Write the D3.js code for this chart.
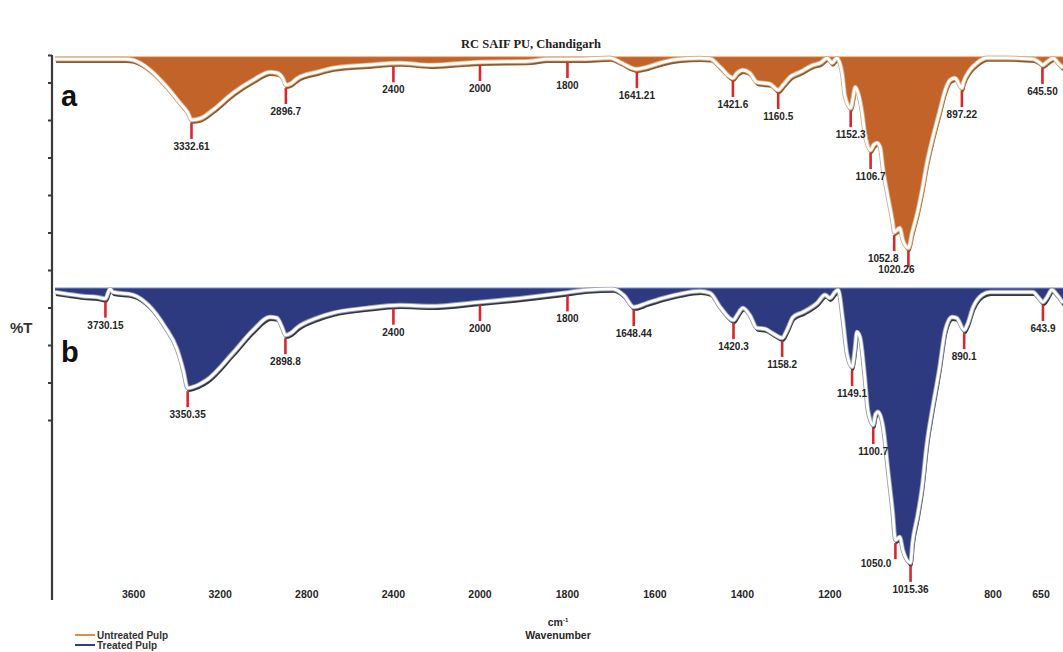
<!DOCTYPE html>
<html>
<head>
<meta charset="utf-8">
<script src="https://cdn.jsdelivr.net/npm/d3@7"></script>
<style>
  html, body { margin: 0; padding: 0; background: #ffffff; }
  svg { display: block; }
  text { font-family: "Liberation Sans", Arial, sans-serif; }
</style>
</head>
<body>
<svg id="chart" width="1063" height="652"></svg>
<script>
// FTIR spectra (wavenumber in cm-1, transmittance in %T)
const untreatedWavenumber = [
  3963, 3801, 3640, 3603, 3524, 3446, 3386, 3350, 3332.61, 3293, 3233, 3141, 3048, 2970, 2938, 2910,
  2896.7, 2873, 2841, 2753, 2679, 2522, 2370, 2231, 2100, 2000, 1886, 1847, 1771, 1703, 1680,
  1641.21, 1618, 1581, 1543, 1497, 1474, 1451, 1421.6, 1412, 1399, 1383, 1367, 1353, 1337, 1318,
  1307, 1291, 1268, 1238, 1222, 1206, 1195, 1184, 1172, 1165, 1152.3, 1147, 1142, 1136, 1126, 1120,
  1106.7, 1100, 1092, 1085, 1078, 1067, 1056, 1052.8, 1040, 1033, 1020.26, 1012, 1000, 989, 978,
  966, 950, 936, 925, 914, 897.22, 893, 872, 850, 819, 756, 675, 653, 645.5, 628, 612, 597, 581
];
const untreatedTransmittance = [
  99.1, 99.1, 99.1, 98.7, 94.3, 86.8, 79.8, 75.6, 72.4, 73.0, 76.8, 84.2, 89.9, 93.4, 93.0, 90.5,
  87.7, 88.4, 90.8, 93.4, 95.2, 96.5, 97.4, 96.5, 97.2, 97.8, 98.2, 99.1, 99.1, 99.6, 97.8,
  94.7, 95.6, 97.8, 99.1, 99.5, 99.3, 95.6, 90.8, 93.0, 94.3, 93.0, 89.0, 88.6, 88.2, 85.5,
  87.7, 91.2, 93.4, 96.5, 97.4, 99.5, 97.4, 99.5, 93.0, 82.5, 77.6, 82.0, 86.8, 84.6, 75.4, 66.7,
  59.2, 61.4, 62.3, 60.5, 50.4, 38.6, 27.2, 23.2, 25.0, 19.7, 16.2, 22.8, 31.6, 41.7, 53.5,
  63.6, 75.4, 85.5, 89.9, 90.8, 86.4, 88.6, 94.3, 97.4, 99.6, 99.6, 99.1, 97.4, 96.5, 98.2, 99.5, 97.4, 95.2
];
const treatedWavenumber = [
  3963, 3908, 3834, 3769, 3730.15, 3709, 3695, 3603, 3530, 3455, 3400, 3370, 3350.35, 3325, 3300,
  3260, 3141, 3048, 2970, 2938, 2912, 2898.8, 2873, 2841, 2753, 2679, 2522, 2370, 2231, 2000,
  1886, 1810, 1755, 1696, 1670, 1648.44, 1618, 1581, 1543, 1497, 1474, 1451, 1420.3, 1412, 1399,
  1383, 1367, 1348, 1332, 1309, 1298, 1284, 1261, 1229, 1211, 1200, 1188, 1181, 1170, 1161,
  1149.1, 1143, 1138, 1131, 1120, 1113, 1100.7, 1096, 1090, 1078, 1067, 1056, 1050.0, 1040, 1033,
  1015.36, 1011, 1000, 989, 978, 966, 950, 936, 921, 910, 890.1, 881, 862, 834, 809, 725, 675,
  659, 643.9, 631, 616, 600, 581
];
const treatedTransmittance = [
  98.7, 98.1, 97.4, 97.1, 96.6, 99.7, 98.7, 97.8, 94.4, 87.5, 80.5, 73.5, 67.9, 68.3, 69.0,
  70.6, 79.2, 86.5, 90.7, 90.4, 87.0, 84.9, 85.6, 87.5, 90.4, 92.0, 93.6, 94.5, 94.2, 95.5,
  97.1, 98.4, 99.4, 99.7, 97.5, 93.9, 95.2, 96.8, 98.1, 99.0, 98.4, 93.9, 89.7, 91.3, 93.6,
  91.3, 87.2, 86.9, 85.6, 84.0, 86.5, 90.7, 92.3, 95.2, 97.8, 96.8, 98.7, 99.4, 89.7, 79.2,
  74.7, 80.0, 85.9, 84.3, 71.5, 60.9, 56.1, 59.3, 60.3, 55.4, 41.7, 27.9, 19.2, 20.2, 16.0,
  11.9, 18.3, 26.6, 36.2, 50.3, 60.9, 73.7, 86.5, 90.7, 90.4, 86.5, 88.1, 93.9, 97.8, 98.7, 98.7, 98.7,
  97.1, 95.5, 97.1, 99.4, 97.8, 95.2
];

// Peak markers: band position and the printed peak value
const untreatedPeakPositions = [3332.61, 2896.7, 2400, 2000, 1800, 1641.21, 1421.6, 1318, 1152.3, 1106.7, 1052.8, 1020.26, 897.22, 645.5];
const untreatedPeakLabels = ["3332.61", "2896.7", "2400", "2000", "1800", "1641.21", "1421.6", "1160.5", "1152.3", "1106.7", "1052.8", "1020.26", "897.22", "645.50"];
const treatedPeakPositions = [3730.15, 3350.35, 2898.8, 2400, 2000, 1800, 1648.44, 1420.3, 1309, 1149.1, 1100.7, 1050.0, 1015.36, 890.1, 643.9];
const treatedPeakLabels = ["3730.15", "3350.35", "2898.8", "2400", "2000", "1800", "1648.44", "1420.3", "1158.2", "1149.1", "1100.7", "1050.0", "1015.36", "890.1", "643.9"];

// Wavenumber axis labels
const wavenumberTicks = [3600, 3200, 2800, 2400, 2000, 1800, 1600, 1400, 1200, 800, 650];
// Unlabelled %T axis ticks
const transmittanceTicks = [10, 20, 30, 40, 50, 60, 70, 80, 90, 100];

const legendLabels = ["Untreated Pulp", "Treated  Pulp"];

const svg = d3.select("#chart");

// Wavenumber scale: expanded below 2000 cm-1, as usual for IR spectra
const x = d3.scaleLinear()
  .domain([4000, 2000, 900, 650])
  .range([47, 480, 961, 1041]);

const yA = d3.scaleLinear().domain([0, 100]).range([285, 57]);
const yB = d3.scaleLinear().domain([0, 100]).range([600, 288]);
const yAxisScale = d3.scaleLinear().domain([0, 100]).range([458, 83]);

// Title
svg.append("text")
  .attr("x", 531).attr("y", 48)
  .attr("text-anchor", "middle")
  .style("font-family", "'Liberation Serif', 'Times New Roman', serif")
  .style("font-weight", "bold").style("font-size", "12.5px")
  .attr("fill", "#222")
  .text("RC SAIF PU, Chandigarh");

function interpT(wns, ts, w) {
  for (let i = 0; i < wns.length - 1; i++) {
    if (w <= wns[i] && w >= wns[i + 1]) {
      const f = (wns[i] - w) / (wns[i] - wns[i + 1]);
      return ts[i] + f * (ts[i + 1] - ts[i]);
    }
  }
  return ts[ts.length - 1];
}

// Per-label placement tweaks for crowded peaks
const labelNudge = {
  "1052.8": { dx: -11, dy: 0 },
  "1020.26": { dx: -12, dy: -5 },
  "1050.0": { dx: -4, dy: -3, anchor: "end" }
};

function drawSpectrum(wns, ts, y, fillColor, shadowColor, edgeColor, topLineColor, peakPos, peakText) {
  const pts = wns.map((w, i) => [w, ts[i]]);
  const g = svg.append("g");

  const area = d3.area()
    .x(d => x(d[0]))
    .y0(y(100))
    .y1(d => y(d[1]))
    .curve(d3.curveMonotoneX);

  const line = d3.line()
    .x(d => x(d[0]))
    .y(d => y(d[1]))
    .curve(d3.curveMonotoneX);

  g.append("path").datum(pts).attr("d", area).attr("fill", fillColor);

  // Thin edge along the top of the filled band
  g.append("line")
    .attr("x1", x(wns[0])).attr("x2", 1063)
    .attr("y1", y(100)).attr("y2", y(100))
    .attr("stroke", topLineColor).attr("stroke-width", 1);

  // Trace: dark drop shadow, soft edge, white core
  g.append("path").datum(pts).attr("d", line)
    .attr("fill", "none").attr("stroke", shadowColor).attr("stroke-width", 2.6)
    .attr("transform", "translate(1,2.6)").attr("stroke-linejoin", "round");
  g.append("path").datum(pts).attr("d", line)
    .attr("fill", "none").attr("stroke", edgeColor).attr("stroke-width", 4.6)
    .attr("stroke-linejoin", "round");
  g.append("path").datum(pts).attr("d", line)
    .attr("fill", "none").attr("stroke", "#ffffff").attr("stroke-width", 2.8)
    .attr("stroke-linejoin", "round");

  // Peak markers
  peakPos.forEach((p, i) => {
    const px = x(p);
    const cy = y(interpT(wns, ts, p));
    g.append("line")
      .attr("x1", px).attr("x2", px)
      .attr("y1", cy + 3).attr("y2", cy + 19)
      .attr("stroke", "#d8282c").attr("stroke-width", 2.6);
    const nd = labelNudge[peakText[i]] || { dx: 0, dy: 0 };
    g.append("text")
      .attr("x", px + nd.dx).attr("y", cy + 30 + nd.dy)
      .attr("text-anchor", nd.anchor || "middle")
      .style("font-size", "10px").style("font-weight", "bold")
      .attr("fill", "#262626")
      .text(peakText[i]);
  });
}

drawSpectrum(untreatedWavenumber, untreatedTransmittance, yA,
  "#c2632a", "#8c5a2c", "#d8b18a", "#d27a3c", untreatedPeakPositions, untreatedPeakLabels);
drawSpectrum(treatedWavenumber, treatedTransmittance, yB,
  "#2e3a80", "#33363f", "#9aa0b4", "#7f8fd0", treatedPeakPositions, treatedPeakLabels);

// Left %T axis
const axisG = svg.append("g");
axisG.append("line")
  .attr("x1", 52).attr("x2", 52).attr("y1", 55).attr("y2", 600)
  .attr("stroke", "#3a3a3a").attr("stroke-width", 2.2);
axisG.append("line")
  .attr("x1", 48).attr("x2", 52).attr("y1", 55.5).attr("y2", 55.5)
  .attr("stroke", "#3a3a3a").attr("stroke-width", 2);
axisG.selectAll("line.tick").data(transmittanceTicks).join("line")
  .attr("class", "tick")
  .attr("x1", 48).attr("x2", 52)
  .attr("y1", d => yAxisScale(d)).attr("y2", d => yAxisScale(d))
  .attr("stroke", "#3a3a3a").attr("stroke-width", 2);

svg.append("text")
  .attr("x", 10).attr("y", 333)
  .style("font-size", "15px").style("font-weight", "bold")
  .attr("fill", "#333").text("%T");

// Panel letters
svg.append("text").attr("x", 61).attr("y", 106)
  .style("font-size", "29px").style("font-weight", "bold").attr("fill", "#111").text("a");
svg.append("text").attr("x", 61).attr("y", 362)
  .style("font-size", "29px").style("font-weight", "bold").attr("fill", "#111").text("b");

// Wavenumber labels
svg.append("g").selectAll("text").data(wavenumberTicks).join("text")
  .attr("x", d => x(d)).attr("y", 598)
  .attr("text-anchor", "middle")
  .style("font-size", "10.5px").style("font-weight", "bold")
  .attr("fill", "#262626")
  .text(d => d);

// Axis title
const cmLabel = svg.append("text")
  .attr("x", 558).attr("y", 626)
  .attr("text-anchor", "middle")
  .style("font-size", "10.5px").style("font-weight", "bold")
  .attr("fill", "#262626");
cmLabel.append("tspan").text("cm");
cmLabel.append("tspan").attr("dy", -4).style("font-size", "6px").text("-1");
svg.append("text")
  .attr("x", 558).attr("y", 639)
  .attr("text-anchor", "middle")
  .style("font-size", "10.5px").style("font-weight", "bold")
  .attr("fill", "#262626")
  .text("Wavenumber");

// Legend
const legendColors = ["#e38b45", "#2d3c8e"];
const legend = svg.append("g");
legendLabels.forEach((lbl, i) => {
  const ly = 635 + i * 10;
  legend.append("line")
    .attr("x1", 75).attr("x2", 95).attr("y1", ly).attr("y2", ly)
    .attr("stroke", legendColors[i]).attr("stroke-width", 2);
  legend.append("text")
    .attr("x", 97).attr("y", ly + 3.5)
    .style("font-size", "10px").style("font-weight", "bold")
    .attr("fill", "#333")
    .text(lbl);
});
</script>
</body>
</html>
